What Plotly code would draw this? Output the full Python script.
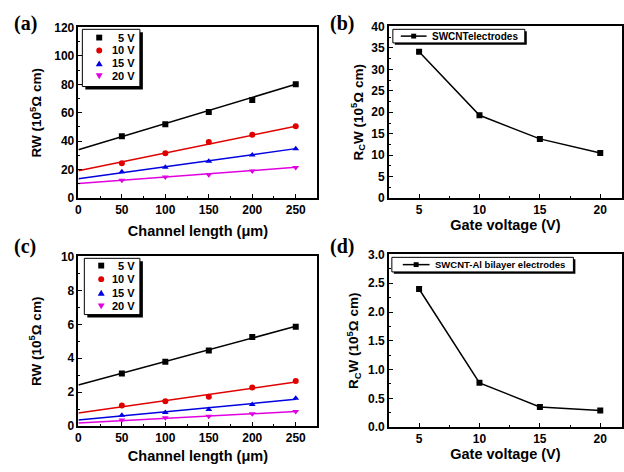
import plotly.graph_objects as go

# ---------------- data ----------------
channel_length = [50, 100, 150, 200, 250]
fit_x = [0, 250]
voltages_lbl = ["5 V", "10 V", "15 V", "20 V"]

# panel (a): SWCNT electrodes, RW (1e5 ohm cm)
a_5 = [43.5, 52.0, 60.5, 69.0, 80.0]
a_10 = [24.5, 31.5, 39.5, 44.5, 50.5]
a_15 = [18.6, 21.8, 26.0, 30.3, 34.8]
a_20 = [12.5, 14.8, 16.5, 19.0, 21.5]
a_fit_5 = [34.0, 80.0]
a_fit_10 = [19.3, 50.5]
a_fit_15 = [13.6, 34.8]
a_fit_20 = [10.3, 21.7]

# panel (c): SWCNT-Al bilayer electrodes
c_5 = [3.10, 3.80, 4.45, 5.25, 5.85]
c_10 = [1.22, 1.47, 1.73, 2.28, 2.66]
c_15 = [0.65, 0.80, 0.98, 1.27, 1.65]
c_20 = [0.36, 0.50, 0.58, 0.73, 0.86]
c_fit_5 = [2.42, 5.88]
c_fit_10 = [0.78, 2.60]
c_fit_15 = [0.36, 1.58]
c_fit_20 = [0.19, 0.87]

# panels (b), (d): contact resistance vs gate voltage
gate_voltage = [5, 10, 15, 20]
b_rcw = [34.1, 19.3, 13.8, 10.5]
d_rcw = [2.40, 0.77, 0.35, 0.29]
b_name = "SWCNTelectrodes"
d_name = "SWCNT-Al bilayer electrodes"

colors = ["#000000", "#e00000", "#0000e0", "#e000e0"]
symbols = ["square", "circle", "triangle-up", "triangle-down"]

W, H = 624, 472
fig = go.Figure()


def px(x):
    return x / W


def py(y):
    return 1 - y / H


dom = {
    "a": ([px(76), px(317)], [py(197), py(21)]),
    "b": ([px(389), 1.0], [py(197), py(20)]),
    "c": ([px(76), px(317)], [py(432), py(257)]),
    "d": ([px(389), 1.0], [py(433), py(255)]),
}


def add_rw(series, fits, xa, ya):
    for i, f in enumerate(fits):
        fig.add_trace(go.Scatter(x=fit_x, y=f, mode="lines",
                                 line=dict(color=colors[i], width=1.5),
                                 xaxis=xa, yaxis=ya, showlegend=False, hoverinfo="skip"))
    for i, s in enumerate(series):
        fig.add_trace(go.Scatter(x=channel_length, y=s, mode="markers",
                                 marker=dict(symbol=symbols[i], color=colors[i], size=6),
                                 name=voltages_lbl[i], showlegend=False,
                                 xaxis=xa, yaxis=ya))


add_rw([a_5, a_10, a_15, a_20], [a_fit_5, a_fit_10, a_fit_15, a_fit_20], "x", "y")
add_rw([c_5, c_10, c_15, c_20], [c_fit_5, c_fit_10, c_fit_15, c_fit_20], "x3", "y3")

for vals, nm, xa, ya in [(b_rcw, b_name, "x2", "y2"), (d_rcw, d_name, "x4", "y4")]:
    fig.add_trace(go.Scatter(x=gate_voltage, y=vals, mode="lines+markers",
                             line=dict(color="black", width=1.5),
                             marker=dict(symbol="square", size=6, color="black"),
                             name=nm, showlegend=False, xaxis=xa, yaxis=ya))

tickfont = dict(family="Liberation Sans", size=12, color="black", weight="bold")
xtitlefont = dict(family="Liberation Sans", size=14.5, color="black")
ytitlefont = dict(family="Liberation Sans", size=13.5, color="black")


def axis_common():
    return dict(showgrid=False, zeroline=False, showline=True, linecolor="black",
                linewidth=1.5, mirror=True, ticks="inside", ticklen=4, tickwidth=1,
                tickcolor="black", tickfont=tickfont)


def make_axis(domain, anchor, title, rng, dtick, minor, standoff, tfont, fmt=None):
    d = axis_common()
    d.update(domain=domain, anchor=anchor, range=rng, dtick=dtick, tick0=0,
             title=dict(text=f"<b>{title}</b>", font=tfont, standoff=standoff),
             minor=dict(ticks="inside", ticklen=2, dtick=minor, tick0=0, tickcolor="black"))
    if fmt:
        d["tickformat"] = fmt
    return d


rw_title = "RW (10<sup>5</sup>\u03a9 cm)"
rcw_title = "R<sub>C</sub>W (10<sup>5</sup>\u03a9 cm)"
cl_title = "Channel length (\u03bcm)"
gv_title = "Gate voltage (V)"

fig.update_layout(
    width=W, height=H, margin=dict(l=0, r=0, t=0, b=0),
    paper_bgcolor="white", plot_bgcolor="white", showlegend=False,
    xaxis=make_axis(dom["a"][0], "y", cl_title, [0, 275], 50, 25, 10, xtitlefont),
    yaxis=make_axis(dom["a"][1], "x", rw_title, [0, 120], 20, 10, 9, ytitlefont),
    xaxis2=make_axis(dom["b"][0], "y2", gv_title, [2.5, 21.8], 5, 2.5, 2, xtitlefont),
    yaxis2=make_axis(dom["b"][1], "x2", rcw_title, [0, 40], 5, 2.5, 5, ytitlefont),
    xaxis3=make_axis(dom["c"][0], "y3", cl_title, [0, 275], 50, 25, 7, xtitlefont),
    yaxis3=make_axis(dom["c"][1], "x3", rw_title, [0, 10], 2, 1, 16, ytitlefont),
    xaxis4=make_axis(dom["d"][0], "y4", gv_title, [2.5, 21.8], 5, 2.5, 4, xtitlefont),
    yaxis4=make_axis(dom["d"][1], "x4", rcw_title, [0, 3], 0.5, 0.25, 6, ytitlefont, ".1f"),
)


# ---------------- hand-drawn legends (boxes with drop shadow) ----------------
def legend_box(x0, y0, x1, y1, sh=3):
    fig.add_shape(type="rect", xref="paper", yref="paper", layer="above",
                  x0=px(x0 + sh), x1=px(x1 + sh), y0=py(y1 + sh), y1=py(y0 + sh),
                  fillcolor="black", line=dict(width=0))
    fig.add_shape(type="rect", xref="paper", yref="paper", layer="above",
                  x0=px(x0), x1=px(x1), y0=py(y1), y1=py(y0),
                  fillcolor="white", line=dict(color="black", width=1))


def glyph(sym, cx, cy, color, s=6):
    h = s / 2
    if sym == "square":
        fig.add_shape(type="rect", xref="paper", yref="paper", layer="above",
                      x0=px(cx - h), x1=px(cx + h), y0=py(cy + h), y1=py(cy - h),
                      fillcolor=color, line=dict(width=0))
    elif sym == "circle":
        fig.add_shape(type="circle", xref="paper", yref="paper", layer="above",
                      x0=px(cx - h), x1=px(cx + h), y0=py(cy + h), y1=py(cy - h),
                      fillcolor=color, line=dict(width=0))
    else:
        if sym == "triangle-up":
            pts = [(cx - h - 0.5, cy + h), (cx + h + 0.5, cy + h), (cx, cy - h)]
        else:
            pts = [(cx - h - 0.5, cy - h), (cx + h + 0.5, cy - h), (cx, cy + h)]
        path = "M " + " L ".join(f"{px(x):.5f},{py(y):.5f}" for x, y in pts) + " Z"
        fig.add_shape(type="path", xref="paper", yref="paper", layer="above",
                      path=path, fillcolor=color, line=dict(width=0))


def label(text, x, y, size, anchor="left", family="Liberation Sans"):
    fig.add_annotation(text=f"<b>{text}</b>", xref="paper", yref="paper",
                       x=px(x), y=py(y), showarrow=False, xanchor=anchor, yanchor="middle",
                       font=dict(family=family, size=size, color="black"))


def rw_legend(x0, y0, x1, y1, ys, gx, tx):
    legend_box(x0, y0, x1, y1)
    for i, lab in enumerate(voltages_lbl):
        glyph(symbols[i], gx, ys[i], colors[i])
        label(lab, tx, ys[i], 11, anchor="right")


rw_legend(80, 23, 138, 82, [31.5, 44.8, 58.1, 71.4], 97, 135)
rw_legend(82, 259, 138, 317, [266.5, 280.5, 294.5, 308.5], 99, 135)


def line_legend(x0, y0, x1, y1, lx0, lx1, cy, name, size):
    legend_box(x0, y0, x1, y1, sh=2)
    fig.add_shape(type="line", xref="paper", yref="paper", layer="above",
                  x0=px(lx0), x1=px(lx1), y0=py(cy), y1=py(cy),
                  line=dict(color="black", width=1.5))
    glyph("square", (lx0 + lx1) / 2, cy, "black", s=5)
    label(name, lx1 + 3, cy, size)


line_legend(393, 23, 526, 37, 401, 427, 30, b_name, 10)
line_legend(392, 258, 575, 273, 403, 430, 265.5, d_name, 9.5)

# panel labels
for lab, x, y in [("(a)", 23, 17), ("(b)", 342, 17), ("(c)", 22, 247), ("(d)", 342, 247)]:
    fig.add_annotation(text=f"<b>{lab}</b>", xref="paper", yref="paper",
                       x=px(x), y=py(y), showarrow=False,
                       font=dict(family="Liberation Serif", size=20, color="black"),
                       xanchor="center", yanchor="middle")

fig.write_html("out.html")
